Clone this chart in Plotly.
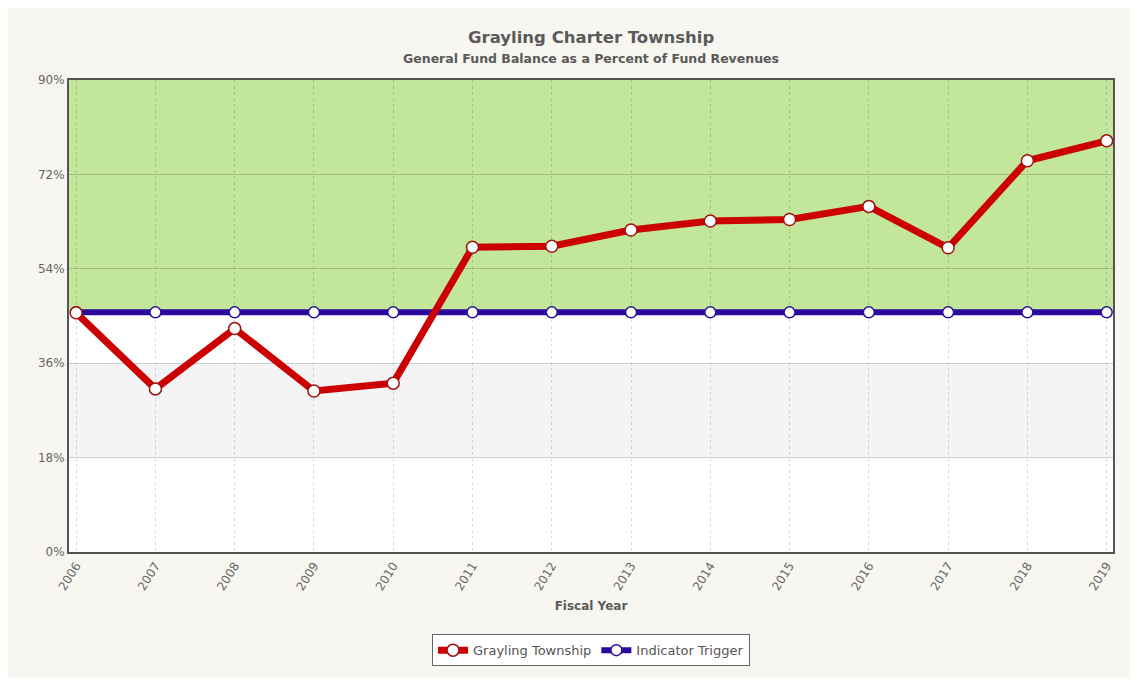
import plotly.graph_objects as go

# data
years = list(range(2006, 2020))
grayling = [45.6, 31.1, 42.6, 30.7, 32.2, 58.1, 58.3, 61.4, 63.1, 63.4, 65.9, 58.0, 74.6, 78.4]
trigger = [45.7] * len(years)
y_ticks = [0, 18, 36, 54, 72, 90]
y_labels = ["0%", "18%", "36%", "54%", "72%", "90%"]

FONT = "DejaVu Sans"
TXT = "#5a5a5a"

fig = go.Figure()

fig.add_trace(go.Scatter(
    x=years, y=trigger, name="Indicator Trigger", mode="lines+markers",
    line=dict(color="#2b0b9c", width=6),
    marker=dict(size=11, color="white", line=dict(color="#2b0b9c", width=1.5)),
))
fig.add_trace(go.Scatter(
    x=years, y=grayling, name="Grayling Township", mode="lines+markers",
    line=dict(color="#cc0000", width=7),
    marker=dict(size=12, color="white", line=dict(color="#a01010", width=1.5)),
))

# background bands: light gray 18-36, green above the trigger
fig.add_shape(type="rect", xref="paper", yref="y", x0=0, x1=1, y0=18, y1=36,
              fillcolor="#f4f4f4", line_width=0, layer="below")
fig.add_shape(type="rect", xref="paper", yref="y", x0=0, x1=1, y0=trigger[0], y1=90,
              fillcolor="#c2e79b", line_width=0, layer="below")

# outer frame around the whole chart (page has an 8px body margin)
fig.add_shape(type="rect", xref="paper", yref="paper",
              x0=-0.0613, x1=1.019, y0=-0.35, y1=1.158,
              line=dict(color="#d6d6d6", width=1), fillcolor="rgba(0,0,0,0)")

fig.add_annotation(text="<b>Grayling Charter Township</b>", xref="paper", yref="paper",
                   x=0.5, y=1.0905, yanchor="middle", showarrow=False,
                   font=dict(family=FONT, size=16.5, color=TXT))
fig.add_annotation(text="<b>General Fund Balance as a Percent of Fund Revenues</b>",
                   xref="paper", yref="paper", x=0.5, y=1.046, yanchor="middle", showarrow=False,
                   font=dict(family=FONT, size=12.5, color=TXT))

fig.update_xaxes(
    range=[2005.91, 2019.08], tickmode="array", tickvals=years, ticktext=[str(y) for y in years],
    tickangle=-58, tickfont=dict(family=FONT, size=12, color="#666"),
    showgrid=True, gridcolor="rgba(0,0,0,0.14)", griddash="3px,3px", gridwidth=1,
    showline=True, linecolor="#555", linewidth=2, mirror=True, zeroline=False,
    title=dict(text="<b>Fiscal Year</b>", font=dict(family=FONT, size=12, color=TXT), standoff=10),
)
fig.update_yaxes(
    range=[0, 90], tickmode="array", tickvals=y_ticks, ticktext=y_labels,
    tickfont=dict(family=FONT, size=12, color="#666"),
    showgrid=True, gridcolor="rgba(0,0,0,0.17)", gridwidth=1,
    showline=True, linecolor="#555", linewidth=2, mirror=True, zeroline=False,
)

fig.update_layout(
    width=1122, height=670,
    margin=dict(l=61, r=17, t=72, b=123),
    paper_bgcolor="#f7f6f1", plot_bgcolor="white",
    showlegend=True,
    legend=dict(orientation="h", x=0.5, xanchor="center", y=-0.208, yanchor="middle",
                bgcolor="white", bordercolor="#666", borderwidth=1,
                font=dict(family=FONT, size=13, color="#555"), traceorder="reversed"),
    font=dict(family=FONT),
)

fig.write_html("out.html")
